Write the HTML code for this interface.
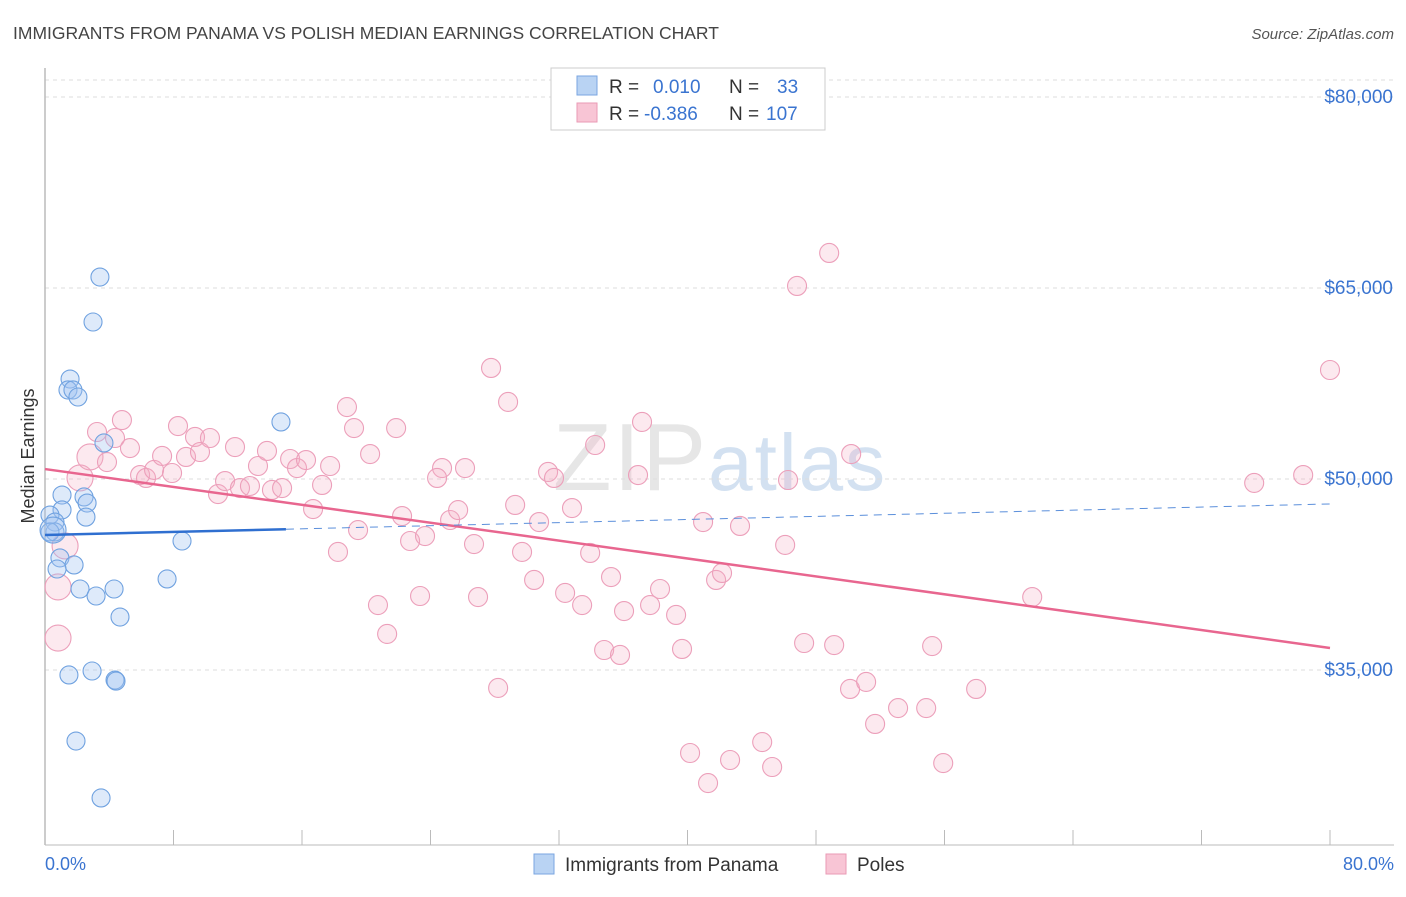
<!DOCTYPE html>
<html><head><meta charset="utf-8"><style>
body{margin:0;background:#fff;font-family:"Liberation Sans",sans-serif;}
svg text{font-family:"Liberation Sans",sans-serif;}
</style></head><body>
<svg id="chart" width="1406" height="892" viewBox="0 0 1406 892" xmlns="http://www.w3.org/2000/svg">
<text x="13" y="39" font-size="17.5" fill="#444">IMMIGRANTS FROM PANAMA VS POLISH MEDIAN EARNINGS CORRELATION CHART</text>
<text x="1394" y="39" font-size="15" fill="#555" text-anchor="end" font-style="italic">Source: ZipAtlas.com</text>
<text x="720" y="490" font-size="96" fill="#e6e6e6" text-anchor="middle" font-family="Liberation Serif" letter-spacing="2">ZIP<tspan fill="#d3e1f1" font-family="Liberation Sans" font-size="80">atlas</tspan></text>
<g id="grid"></g>
<line x1="45" y1="68" x2="45" y2="845" stroke="#bbb" stroke-width="1.5"/>
<line x1="45" y1="845" x2="1394" y2="845" stroke="#bbb" stroke-width="1"/>
<g id="xticks"></g>
<text transform="translate(34,456) rotate(-90)" font-size="18" fill="#333" text-anchor="middle">Median Earnings</text>
<text x="45" y="870" font-size="18" fill="#3a74d0">0.0%</text>
<text x="1394" y="870" font-size="18" fill="#3a74d0" text-anchor="end">80.0%</text>
<g id="pinkpts"></g>
<g id="bluepts"></g>
<g id="lines"></g>
<g>
<rect x="551" y="68" width="274" height="62" fill="#fff" stroke="#ccc"/>
<rect x="577" y="76" width="20" height="19" fill="#b9d3f3" stroke="#7aa6e0"/>
<rect x="577" y="103" width="20" height="19" fill="#f8c5d5" stroke="#ea9ab5"/>
<text x="609" y="93" font-size="19" fill="#333">R = <tspan fill="#3a74d0" x="653">0.010</tspan><tspan fill="#333" x="729">N = </tspan><tspan fill="#3a74d0" x="777">33</tspan></text>
<text x="609" y="120" font-size="19" fill="#333">R = <tspan fill="#3a74d0" x="644">-0.386</tspan><tspan fill="#333" x="729">N = </tspan><tspan fill="#3a74d0" x="766">107</tspan></text>
</g>
<g><rect x="534" y="854" width="20" height="20" fill="#b9d3f3" stroke="#7aa6e0"/><text x="565" y="871" font-size="19" fill="#333">Immigrants from Panama</text></g>
<g><rect x="826" y="854" width="20" height="20" fill="#f8c5d5" stroke="#ea9ab5"/><text x="857" y="871" font-size="19" fill="#333">Poles</text></g>
</svg>
<script>
const yTicks=[35000,50000,65000,80000];
const yTickLabels=["$35,000","$50,000","$65,000","$80,000"];
const xTicks=[0,8,16,24,32,40,48,56,64,72,80];
const blueX=[3.42,2.99,1.56,1.43,1.74,2.05,14.69,3.67,1.06,2.43,2.62,1.06,2.55,0.31,0.62,0.62,0.31,0.50,8.53,7.60,0.93,1.81,0.75,2.18,4.30,3.18,4.67,1.49,2.93,4.36,4.42,1.93,3.49];
const blueY=[65.86,62.33,57.85,56.99,56.99,56.44,54.48,52.83,48.74,48.59,48.11,47.57,47.01,47.17,46.62,45.84,45.84,45.99,45.13,42.15,43.8,43.25,42.93,41.36,41.36,40.81,39.16,34.61,34.92,34.21,34.13,29.42,24.95];
const pinkX=[0.81,0.81,1.25,2.18,2.80,3.24,4.36,4.79,5.29,3.86,5.92,6.29,6.79,7.29,7.91,8.28,8.78,9.34,9.65,10.27,10.77,11.21,11.83,12.14,12.76,13.26,13.82,14.13,14.76,15.26,15.69,16.25,16.69,17.25,17.75,18.24,18.80,19.24,19.49,20.24,20.73,21.30,21.86,22.23,22.73,23.35,23.66,24.72,24.41,25.22,25.72,26.15,26.71,26.96,27.77,28.21,28.83,29.27,29.70,30.45,30.76,31.32,31.69,32.38,32.81,33.44,33.94,34.25,34.81,35.24,35.80,36.05,36.92,37.17,37.67,38.29,39.29,39.66,40.16,40.97,41.28,41.78,42.15,42.65,43.27,44.65,45.27,46.08,46.26,46.82,47.26,48.82,49.13,50.19,50.12,51.12,51.68,53.11,54.86,55.23,55.92,57.97,61.46,75.28,78.33,80.0];
const pinkY=[37.51,41.52,44.74,50.08,51.73,53.69,53.22,54.63,52.43,51.33,50.31,50.08,50.71,51.81,50.47,54.16,51.73,53.30,52.12,53.22,48.82,49.84,52.51,49.29,49.45,51.02,52.20,49.14,49.29,51.57,50.86,51.49,47.64,49.53,51.02,44.27,55.65,54.0,45.99,51.96,40.10,37.83,54.0,47.09,45.13,40.81,45.52,50.86,50.08,46.78,47.56,50.86,44.89,40.73,58.72,33.59,56.05,47.96,44.27,42.07,46.62,50.55,50.08,41.05,47.72,40.10,44.19,52.67,36.57,42.30,36.18,39.63,50.31,54.48,40.10,41.36,39.32,36.65,28.48,46.62,26.12,42.07,42.62,27.93,46.31,29.34,27.38,44.82,49.92,65.16,37.12,67.75,36.96,51.96,33.51,34.06,30.76,32.01,32.01,36.88,27.69,33.51,40.73,49.69,50.31,58.56];
const pinkTrend=[50.78,36.73];
const blueTrend=[45.60,48.04];
const NS="http://www.w3.org/2000/svg";
function sx(p){return 45+(p/80)*1285;}
function sy(k){return 97+(80-k)*12.733;}
function mk(t,a,parent){const e=document.createElementNS(NS,t);for(const k in a)e.setAttribute(k,a[k]);document.getElementById(parent).appendChild(e);return e;}
yTicks.forEach((v,i)=>{
 const g=mk('line',{x1:45,x2:1394,y1:sy(v/1000),y2:sy(v/1000),stroke:'#ddd','stroke-dasharray':'4,4'},'grid');
 
 
 const t=mk('text',{x:1393,y:sy(v/1000)+6,'font-size':19,fill:'#3a74d0','text-anchor':'end'},'grid');
 t.textContent=yTickLabels[i];
 
 
});
mk('line',{x1:45,x2:1394,y1:80,y2:80,stroke:'#ddd','stroke-dasharray':'4,4'},'grid');
xTicks.forEach(p=>{
 const l=mk('line',{x1:sx(p),x2:sx(p),y1:830,y2:845,stroke:'#bbb'},'xticks');
 
 
});
pinkX.forEach((p,i)=>{
 const c=mk('circle',{cx:sx(p),cy:sy(pinkY[i]),r:i<5?13:9.5,fill:'rgba(246,175,198,0.28)',stroke:'#ec9fba','stroke-width':1.1},'pinkpts');
 
 
});
blueX.forEach((p,i)=>{
 const c=mk('circle',{cx:sx(p),cy:sy(blueY[i]),r:i==17?13:9,fill:'rgba(160,196,240,0.35)',stroke:'#70a2e0','stroke-width':1.1},'bluepts');
 
 
});
const pl=mk('line',{x1:sx(0),y1:sy(pinkTrend[0]),x2:sx(80),y2:sy(pinkTrend[1]),stroke:'#e8668f','stroke-width':2.5},'lines');


const bEnd=blueTrend[0]+(blueTrend[1]-blueTrend[0])*15/80;
const bl=mk('line',{x1:sx(0),y1:sy(blueTrend[0]),x2:sx(15),y2:sy(bEnd),stroke:'#2f6fd0','stroke-width':2.5},'lines');


const bd=mk('line',{x1:sx(15),y1:sy(bEnd),x2:sx(80),y2:sy(blueTrend[1]),stroke:'#5b8fdb','stroke-width':1,'stroke-dasharray':'8,6'},'lines');


</script>
</body></html>
